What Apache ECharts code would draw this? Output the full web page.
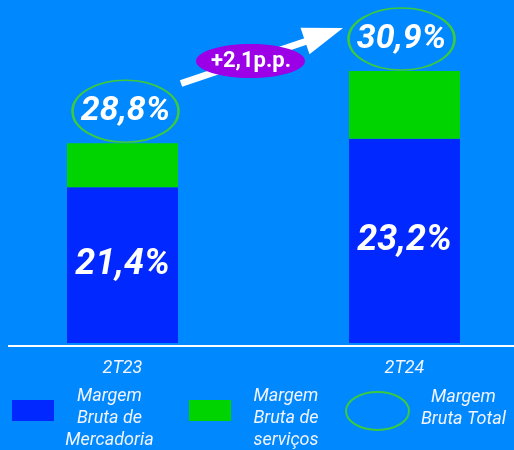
<!DOCTYPE html>
<html>
<head>
<meta charset="utf-8">
<script src="https://cdn.jsdelivr.net/npm/echarts@6/dist/echarts.min.js"></script>
<style>
  html, body { margin: 0; padding: 0; background: #0088ff; }
  #chart { width: 514px; height: 450px; }
</style>
</head>
<body>
<div id="chart"></div>
<script>
// bar heights as drawn in the picture (the original is not to scale)
const categories = ["2T23", "2T24"];
const mercadoria = [17.7, 23.2];
const servicos = [5.0, 7.7];
const labelsMercadoria = ["21,4%", "23,2%"];
const labelsTotal = ["28,8%", "30,9%"];
const changeLabel = "+2,1p.p.";

const totals = mercadoria.map((v, i) => v + servicos[i]);

// small horizontal nudges of the rings, as in the picture
const ringShift = [3, -3];

const font = "Roboto";
const white = "#ffffff";
const ringGreen = "#3ccb3c";

function legendRich(lines, width) {
  return {
    formatter: function () {
      return lines.map(l => "{a|" + l + "}").join("\n");
    },
    rich: { a: { width: width, align: "center", fontSize: 18, lineHeight: 22 } }
  };
}

const leg1 = legendRich(["Margem", "Bruta de", "Mercadoria"], 101);
const leg2 = legendRich(["Margem", "Bruta de", "serviços"], 100);
const leg3 = legendRich(["Margem", "Bruta Total"], 99);

const option = {
  backgroundColor: "#0088ff",
  animation: false,
  grid: {
    left: -18.5,
    width: 564,
    top: 35,
    bottom: 107,
    outerBoundsMode: "none"
  },
  xAxis: {
    type: "category",
    data: categories,
    axisLine: { show: false },
    axisTick: { show: false },
    axisLabel: {
      color: "#f2f4ff",
      fontFamily: font,
      fontStyle: "italic",
      fontSize: 18,
      margin: 16
    }
  },
  yAxis: {
    type: "value",
    min: 0,
    max: 35,
    show: false,
    splitLine: { show: false }
  },
  legend: [
    {
      data: [{ name: "Margem Bruta de Mercadoria", icon: "rect" }],
      left: 12,
      top: 387,
      padding: 0,
      itemWidth: 42,
      itemHeight: 21,
      selectedMode: false,
      formatter: leg1.formatter,
      textStyle: {
        color: "#f2f4ff",
        fontFamily: font,
        fontStyle: "italic",
        fontSize: 18,
        padding: [15, 0, 0, 0],
        rich: leg1.rich
      }
    },
    {
      data: [{ name: "Margem Bruta de serviços", icon: "rect" }],
      left: 189,
      top: 387,
      padding: 0,
      itemWidth: 42,
      itemHeight: 21,
      selectedMode: false,
      formatter: leg2.formatter,
      textStyle: {
        color: "#f2f4ff",
        fontFamily: font,
        fontStyle: "italic",
        fontSize: 18,
        padding: [15, 0, 0, 0],
        rich: leg2.rich
      }
    },
    {
      data: [{
        name: "Margem Bruta Total",
        icon: "path://M0,50A50,50,0,1,1,100,50A50,50,0,1,1,0,50Z",
        symbolKeepAspect: false
      }],
      left: 345,
      top: 388,
      padding: 0,
      itemWidth: 63,
      itemHeight: 38,
      symbolKeepAspect: false,
      selectedMode: false,
      itemStyle: { color: "rgba(0,0,0,0)", borderColor: ringGreen, borderWidth: 2, opacity: 1 },
      formatter: leg3.formatter,
      textStyle: {
        color: "#f2f4ff",
        fontFamily: font,
        fontStyle: "italic",
        fontSize: 18,
        padding: [0, 0, 6, 0],
        rich: leg3.rich
      }
    }
  ],
  series: [
    {
      name: "Margem Bruta de Mercadoria",
      type: "bar",
      stack: "total",
      barWidth: 111,
      data: mercadoria,
      itemStyle: { color: "#0028ff" },
      label: {
        show: true,
        position: "inside",
        formatter: p => labelsMercadoria[p.dataIndex],
        color: white,
        fontFamily: font,
        fontStyle: "italic",
        fontWeight: "bold",
        fontSize: 36
      }
    },
    {
      name: "Margem Bruta de serviços",
      type: "bar",
      stack: "total",
      barWidth: 111,
      data: servicos,
      itemStyle: { color: "#00d400" }
    },
    {
      name: "Margem Bruta Total",
      type: "scatter",
      data: totals.map((v, i) => ({ value: v, symbolOffset: [ringShift[i], -32] })),
      symbol: "circle",
      symbolSize: [106, 62],
      symbolKeepAspect: false,
      itemStyle: { color: "rgba(0,0,0,0)", borderColor: ringGreen, borderWidth: 2, opacity: 1 },
      label: {
        show: true,
        position: "inside",
        formatter: p => labelsTotal[p.dataIndex],
        color: white,
        fontFamily: font,
        fontStyle: "italic",
        fontWeight: "bold",
        fontSize: 34
      },
      z: 5
    }
  ],
  graphic: [
    {
      // x axis base line
      type: "line",
      shape: { x1: 8, y1: 346, x2: 514, y2: 346 },
      style: { stroke: white, lineWidth: 2 }
    },
    {
      type: "line",
      shape: { x1: 181, y1: 83.5, x2: 307, y2: 41 },
      style: { stroke: white, lineWidth: 7 }
    },
    {
      type: "polygon",
      shape: { points: [[343, 28], [300.5, 27.8], [309.5, 54.2]] },
      style: { fill: white }
    },
    {
      type: "ellipse",
      shape: { cx: 250.5, cy: 61, rx: 54.5, ry: 17 },
      style: { fill: "#9b00e6" }
    },
    {
      type: "text",
      x: 251,
      y: 61,
      style: {
        text: changeLabel,
        fill: white,
        font: "bold 22px Roboto",
        align: "center",
        verticalAlign: "middle"
      }
    }
  ]
};

const myChart = echarts.init(document.getElementById("chart"));
myChart.setOption(option);
</script>
</body>
</html>
